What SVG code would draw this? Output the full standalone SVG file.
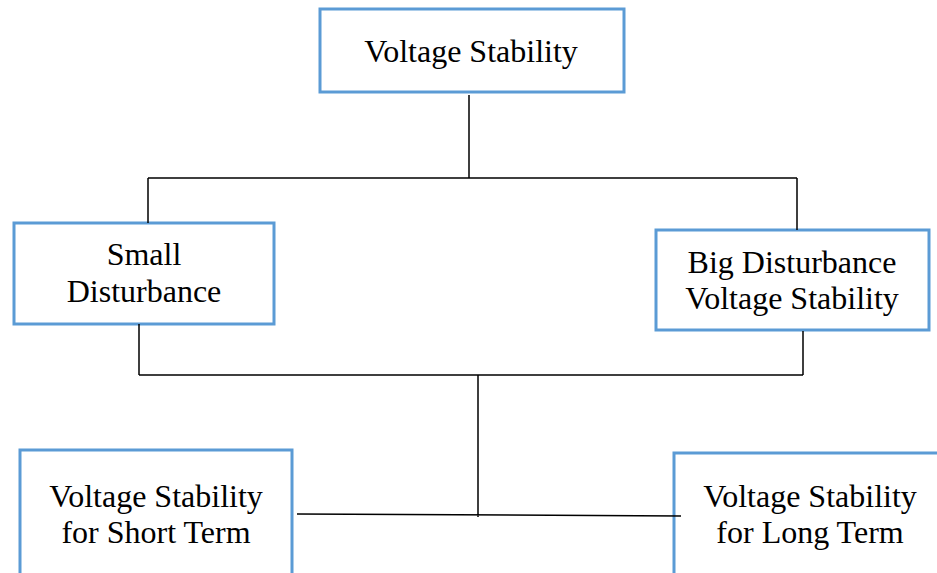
<svg xmlns="http://www.w3.org/2000/svg" width="937" height="573" viewBox="0 0 937 573">
<style>
.box{fill:#fff;stroke:#5B9BD5;stroke-width:3}
.t{font-family:"Liberation Serif","Times New Roman",serif;font-size:32px;fill:#000;text-anchor:middle}
.c{stroke:#000;stroke-width:1.5;fill:none}
</style>
<rect width="937" height="573" fill="#fff"/>
<g id="voltage-stability">
<rect class="box" x="320" y="9" width="304" height="83"/>
<text class="t" x="471" y="62">Voltage Stability</text>
</g>
<g id="small-disturbance">
<rect class="box" x="14" y="223" width="260" height="101"/>
<text class="t" x="144" y="265">Small</text>
<text class="t" x="144" y="302">Disturbance</text>
</g>
<g id="big-disturbance">
<rect class="box" x="656" y="230" width="273" height="100"/>
<text class="t" x="792" y="273">Big Disturbance</text>
<text class="t" x="792" y="309">Voltage Stability</text>
</g>
<g id="short-term">
<rect class="box" x="20" y="450" width="272" height="140"/>
<text class="t" x="156" y="507">Voltage Stability</text>
<text class="t" x="156" y="543">for Short Term</text>
</g>
<g id="long-term">
<rect class="box" x="674" y="453" width="280" height="140"/>
<text class="t" x="810" y="507">Voltage Stability</text>
<text class="t" x="810" y="543">for Long Term</text>
</g>
<g id="connectors">
<path class="c" d="M469 95V178M148 178H797M148 178V223M797 178V230"/>
<path class="c" d="M139 324V375M803 331V375M139 375H803M478 375V517M297 514L681 516"/>
</g>
</svg>
